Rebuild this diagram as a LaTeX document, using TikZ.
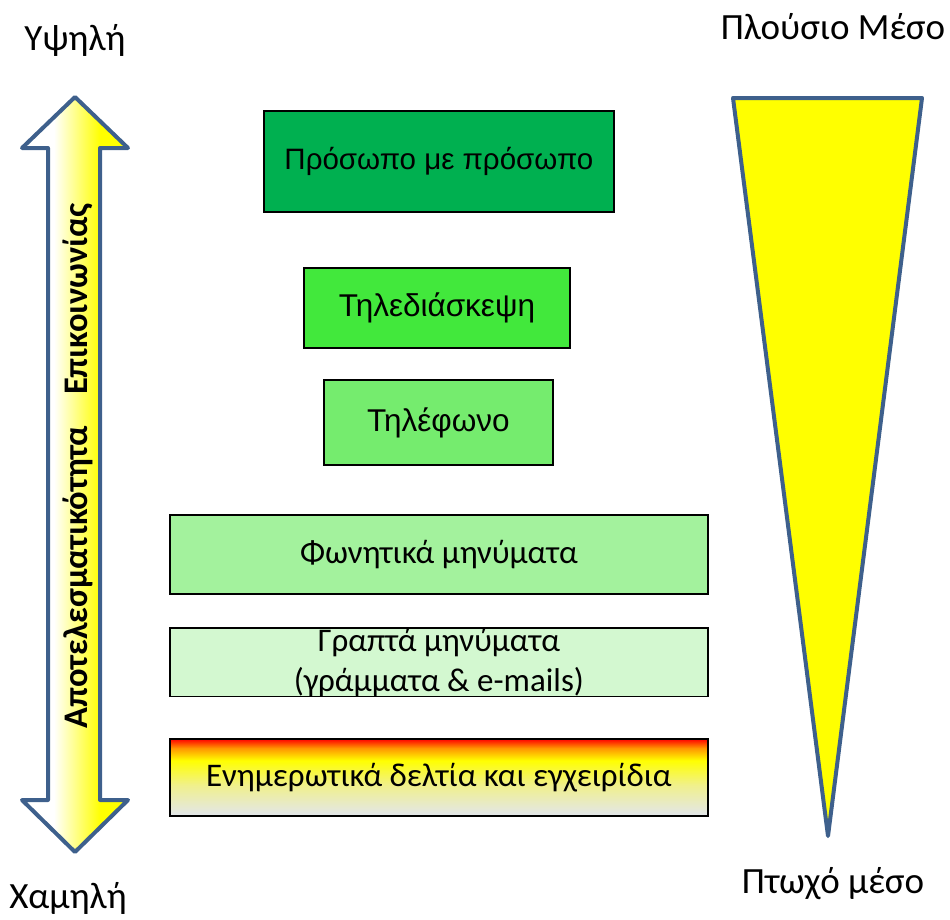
\documentclass[tikz,border=0pt]{standalone}
\usepackage{fontspec}
\setmainfont{Carlito}
\newfontfamily\arialf{Liberation Sans}

\definecolor{outlineblue}{RGB}{62,96,140}
\definecolor{greenA}{RGB}{0,176,80}
\definecolor{greenB}{RGB}{66,232,60}
\definecolor{greenC}{RGB}{117,236,110}
\definecolor{greenD}{RGB}{163,242,157}
\definecolor{greenE}{RGB}{211,248,208}
\definecolor{paleyellow}{RGB}{240,240,140}
\definecolor{coolgrey}{RGB}{226,230,236}
\definecolor{warmorange}{RGB}{255,150,0}
\definecolor{pureyellow}{RGB}{255,255,0}

% white-to-yellow fill of the double arrow (left to right)
\pgfdeclarehorizontalshading{effshade}{100bp}{color(0bp)=(white); color(40bp)=(white); color(62bp)=(pureyellow); color(100bp)=(pureyellow)}
% red/orange/yellow/grey fill of the bottom box (0bp is the bottom)
\pgfdeclareverticalshading{printshade}{100bp}{color(0bp)=(coolgrey); color(25bp)=(coolgrey); color(45bp)=(paleyellow); color(61bp)=(pureyellow); color(69bp)=(warmorange); color(75bp)=(red); color(100bp)=(red)}

\tikzset{
  mediumbox/.style={draw=black, line width=1.8pt, inner sep=0pt, anchor=north west,
                    align=center, font=\fontsize{33}{40}\selectfont},
  arialbox/.style={mediumbox, font=\arialf\fontsize{31.5}{38}\selectfont},
  sidelabel/.style={font=\fontsize{37}{44}\selectfont, inner sep=0pt},
  outline/.style={draw=outlineblue, line width=4pt, line join=round},
}

\begin{document}
\begin{tikzpicture}[x=1pt, y=-1pt]
\useasboundingbox (0,0) rectangle (950,919);

% scale labels
\node[sidelabel] (high) at (75,40) {Υψηλή};
\node[sidelabel] (low) at (68,898) {Χαμηλή};
\node[sidelabel] (rich) at (833,27) {Πλούσιο Μέσο};
\node[sidelabel] (poor) at (833,884) {Πτωχό μέσο};

% double arrow with its rotated caption
\shadedraw[outline, shading=effshade]
  (75,97) -- (128,148) -- (100,148) -- (100,800) -- (128,800) -- (75,852)
  -- (22,800) -- (48,800) -- (48,148) -- (22,148) -- cycle;
\node[rotate=90, inner sep=0pt, font=\bfseries\fontsize{34.5}{42}\selectfont] (effect) at (78,466)
  {Αποτελεσματικότητα\hspace{0.9em}Επικοινωνίας};

% richness wedge
\filldraw[outline, fill=pureyellow] (733,98) -- (922,98) -- (828,836) -- cycle;

% media boxes
\node[arialbox, fill=greenA, minimum width=350pt, minimum height=101pt,
      font=\arialf\fontsize{29.5}{36}\selectfont] (face) at (263,110) {Πρόσωπο με πρόσωπο};
\node[arialbox, fill=greenB, minimum width=266pt, minimum height=80pt] (video) at (303,267) {Τηλεδιάσκεψη};
\node[arialbox, fill=greenC, minimum width=229pt, minimum height=85pt] (phone) at (323,379) {Τηλέφωνο};
\node[mediumbox, fill=greenD, minimum width=538pt, minimum height=79pt] (voice) at (169,514) {Φωνητικά μηνύματα};
\node[mediumbox, fill=greenE, minimum width=538pt, minimum height=67pt] (written) at (169,627) {Γραπτά μηνύματα\\(γράμματα \& e-mails)};
\node[mediumbox, shading=printshade, minimum width=538pt, minimum height=77pt] (print) at (169,738) {Ενημερωτικά δελτία και εγχειρίδια};
\end{tikzpicture}
\end{document}
